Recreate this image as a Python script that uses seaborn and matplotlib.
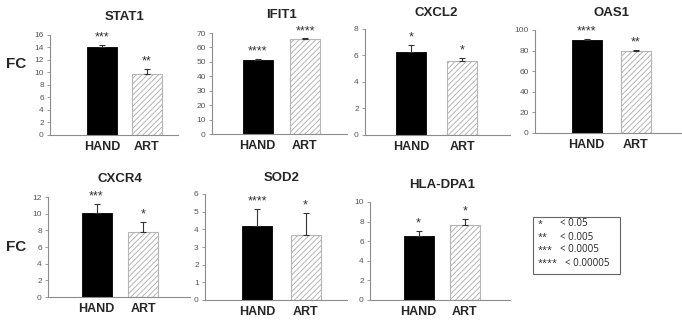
import numpy as np
import pandas as pd
import matplotlib
matplotlib.use("Agg")
import matplotlib.pyplot as plt
import matplotlib.transforms as mtransforms
from matplotlib.patches import Rectangle
import seaborn as sns

# values
genes = ["STAT1", "IFIT1", "CXCL2", "OAS1", "CXCR4", "SOD2", "HLA-DPA1"]
groups = ["HAND", "ART"]
hand_fc = [14.0, 51.5, 6.3, 90.5, 10.1, 4.2, 6.5]
hand_err = [0.4, 0.6, 0.5, 0.5, 1.1, 0.95, 0.55]
art_fc = [9.8, 65.8, 5.55, 80.0, 7.8, 3.7, 7.7]
art_err = [0.75, 0.5, 0.25, 0.5, 1.2, 1.25, 0.6]
hand_sig = ["***", "****", "*", "****", "***", "****", "*"]
art_sig = ["**", "****", "*", "**", "*", "*", "*"]
y_max = [16, 70, 8, 100, 12, 6, 10]
y_step = [2, 10, 2, 20, 2, 1, 2]
legend_stars = ["*", "**", "***", "****"]
legend_p = ["< 0.05", "< 0.005", "< 0.0005", "< 0.00005"]

# panel placement in pixels: axis x0, axis x1, top tick y, zero y, HAND centre, ART centre, title y
layout = [
    (50, 178, 35, 135, 102, 146.5, 17),
    (212, 347, 33, 134, 257.5, 305, 15),
    (365, 510, 29, 135, 411, 462, 13),
    (535, 682, 30, 133, 586.5, 635.5, 13),
    (48, 190, 197, 297, 96.5, 143, 179),
    (205, 347, 194, 300, 257, 305.5, 178),
    (370, 510, 202, 300, 418.5, 465, 185),
]

W, H = 682, 321
sns.set_style("white")
plt.rcParams["font.family"] = ["Liberation Sans", "DejaVu Sans"]
plt.rcParams["hatch.linewidth"] = 0.7

fig = plt.figure(figsize=(W / 100, H / 100), dpi=100)
spine_col = "#8c8c8c"

for i, gene in enumerate(genes):
    x0, x1, ytop, yzero, ch, ca, ty = layout[i]
    ax = fig.add_axes([x0 / W, 1 - yzero / H, (x1 - x0) / W, (yzero - ytop) / H])
    df = pd.DataFrame({"group": groups, "fc": [hand_fc[i], art_fc[i]]})
    unit = ca - ch
    sns.barplot(data=df, x="group", y="fc", order=groups, ax=ax,
                hue="group", palette={"HAND": "black", "ART": "white"},
                legend=False, errorbar=None, width=30 / unit)
    bars = ax.patches
    bars[0].set_edgecolor("black")
    bars[0].set_linewidth(0.6)
    bars[1].set_edgecolor("#b5b5b5")
    bars[1].set_hatch("//////")
    bars[1].set_linewidth(0.8)

    vals = [hand_fc[i], art_fc[i]]
    errs = [hand_err[i], art_err[i]]
    ax.errorbar([0, 1], vals, yerr=[[0, 0], errs], fmt="none",
                ecolor="#333333", elinewidth=0.8, capsize=2.5, capthick=0.8)
    for xi, (v, e, s) in enumerate(zip(vals, errs, [hand_sig[i], art_sig[i]])):
        ax.annotate(s, (xi, v + e), xytext=(0, 1), textcoords="offset points",
                    ha="center", va="bottom", fontsize=9, color="#333333")

    ax.set_xlim(-(ch - x0) / unit, 1 + (x1 - ca) / unit)
    ax.set_ylim(0, y_max[i])
    ax.set_yticks(np.arange(0, y_max[i] + y_step[i] / 2, y_step[i]))
    ax.set_xlabel("")
    ax.set_ylabel("")
    ax.tick_params(axis="y", length=2.5, width=0.6, color=spine_col,
                   labelsize=6, labelcolor="#555555", pad=2, left=True)
    ax.tick_params(axis="x", length=0, labelsize=9, pad=4.5)
    for lab in ax.get_xticklabels():
        lab.set_fontweight("bold")
    for side in ["top", "right"]:
        ax.spines[side].set_visible(False)
    for side in ["left", "bottom"]:
        ax.spines[side].set_color(spine_col)
        ax.spines[side].set_linewidth(0.8)

    # title centred over the pair of bars
    trans = mtransforms.blended_transform_factory(ax.transData, ax.transAxes)
    ax.text(0.5, (yzero - ty) / (yzero - ytop), gene, transform=trans,
            ha="center", va="center", fontsize=9.5, fontweight="bold")

# FC labels
fig.text(16 / W, 1 - 64 / H, "FC", fontsize=11, fontweight="bold", ha="center", va="center")
fig.text(16 / W, 1 - 247 / H, "FC", fontsize=11, fontweight="bold", ha="center", va="center")

# significance key
fig.patches.append(Rectangle((533 / W, 1 - 274 / H), 87 / W, 57 / H,
                             transform=fig.transFigure, fill=False,
                             edgecolor="#666666", linewidth=0.8))
row_y = [224, 237, 250, 263]
for s, p, ry in zip(legend_stars, legend_p, row_y):
    fig.text(538 / W, 1 - ry / H, s, fontsize=6.5, ha="left", va="center",
             family=["Open Sans", "DejaVu Sans"], color="#222222")
    px = 560 if len(s) < 4 else 565
    fig.text(px / W, 1 - ry / H, p, fontsize=7, ha="left", va="center",
             family=["Open Sans", "DejaVu Sans"], color="#222222")

fig.savefig("out.png", dpi=100)
